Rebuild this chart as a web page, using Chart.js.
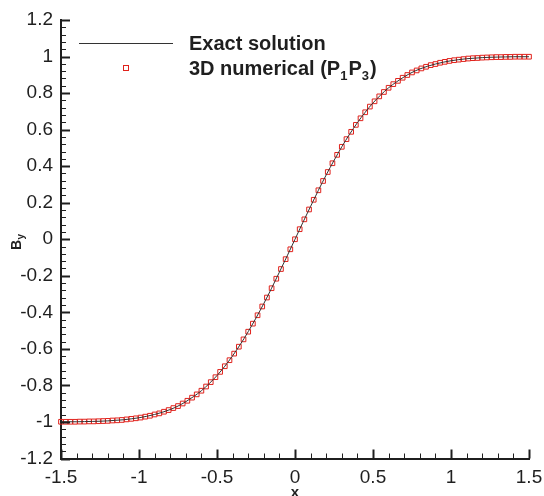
<!DOCTYPE html>
<html>
<head>
<meta charset="utf-8">
<script src="https://cdn.jsdelivr.net/npm/chart.js@4/dist/chart.umd.min.js"></script>
<style>
  html, body { margin: 0; padding: 0; background: #fff; }
  canvas { display: block; }
</style>
</head>
<body>
<canvas id="chart" width="544" height="496"></canvas>
<script>
// ---------- Data ----------
const exactX = [
  -1.50, -1.45, -1.40, -1.35, -1.30, -1.25, -1.20, -1.15, -1.10, -1.05,
  -1.00, -0.95, -0.90, -0.85, -0.80, -0.75, -0.70, -0.65, -0.60, -0.55,
  -0.50, -0.45, -0.40, -0.35, -0.30, -0.25, -0.20, -0.15, -0.10, -0.05,
  0,
  0.05, 0.10, 0.15, 0.20, 0.25, 0.30, 0.35, 0.40, 0.45, 0.50,
  0.55, 0.60, 0.65, 0.70, 0.75, 0.80, 0.85, 0.90, 0.95, 1.00,
  1.05, 1.10, 1.15, 1.20, 1.25, 1.30, 1.35, 1.40, 1.45, 1.50,
];
const exactY = [
  -0.999, -0.999, -0.999, -0.998, -0.997, -0.996, -0.994, -0.991, -0.988, -0.983,
  -0.977, -0.969, -0.959, -0.947, -0.932, -0.913, -0.889, -0.861, -0.829, -0.790,
  -0.746, -0.695, -0.638, -0.575, -0.506, -0.431, -0.352, -0.268, -0.180, -0.091,
  0,
  0.091, 0.180, 0.268, 0.352, 0.431, 0.506, 0.575, 0.638, 0.695, 0.746,
  0.790, 0.829, 0.861, 0.889, 0.913, 0.932, 0.947, 0.959, 0.969, 0.977,
  0.983, 0.988, 0.991, 0.994, 0.996, 0.997, 0.998, 0.999, 0.999, 0.999,
];

const numX = [
  -1.50, -1.47, -1.44, -1.41, -1.38, -1.35, -1.32, -1.29, -1.26, -1.23,
  -1.20, -1.17, -1.14, -1.11, -1.08, -1.05, -1.02, -0.99, -0.96, -0.93,
  -0.90, -0.87, -0.84, -0.81, -0.78, -0.75, -0.72, -0.69, -0.66, -0.63,
  -0.60, -0.57, -0.54, -0.51, -0.48, -0.45, -0.42, -0.39, -0.36, -0.33,
  -0.30, -0.27, -0.24, -0.21, -0.18, -0.15, -0.12, -0.09, -0.06, -0.03,
  0,
  0.03, 0.06, 0.09, 0.12, 0.15, 0.18, 0.21, 0.24, 0.27, 0.30,
  0.33, 0.36, 0.39, 0.42, 0.45, 0.48, 0.51, 0.54, 0.57, 0.60,
  0.63, 0.66, 0.69, 0.72, 0.75, 0.78, 0.81, 0.84, 0.87, 0.90,
  0.93, 0.96, 0.99, 1.02, 1.05, 1.08, 1.11, 1.14, 1.17, 1.20,
  1.23, 1.26, 1.29, 1.32, 1.35, 1.38, 1.41, 1.44, 1.47, 1.50,
];
const numY = [
  -0.999, -0.999, -0.999, -0.999, -0.998, -0.998, -0.997, -0.997, -0.996, -0.995,
  -0.994, -0.992, -0.991, -0.989, -0.986, -0.983, -0.980, -0.976, -0.971, -0.966,
  -0.959, -0.953, -0.944, -0.935, -0.924, -0.913, -0.899, -0.884, -0.867, -0.849,
  -0.829, -0.806, -0.782, -0.755, -0.726, -0.695, -0.662, -0.626, -0.588, -0.548,
  -0.506, -0.462, -0.416, -0.368, -0.319, -0.268, -0.216, -0.163, -0.109, -0.055,
  0,
  0.055, 0.109, 0.163, 0.216, 0.268, 0.319, 0.368, 0.416, 0.462, 0.506,
  0.548, 0.588, 0.626, 0.662, 0.695, 0.726, 0.755, 0.782, 0.806, 0.829,
  0.849, 0.867, 0.884, 0.899, 0.913, 0.924, 0.935, 0.944, 0.953, 0.959,
  0.966, 0.971, 0.976, 0.980, 0.983, 0.986, 0.989, 0.991, 0.992, 0.994,
  0.995, 0.996, 0.997, 0.997, 0.998, 0.998, 0.999, 0.999, 0.999, 0.999,
];

const xTicks = [-1.5, -1, -0.5, 0, 0.5, 1, 1.5];
const xTickLabels = ['-1.5', '-1', '-0.5', '0', '0.5', '1', '1.5'];
const yTicks = [-1.2, -1, -0.8, -0.6, -0.4, -0.2, 0, 0.2, 0.4, 0.6, 0.8, 1, 1.2];
const yTickLabels = ['-1.2', '-1', '-0.8', '-0.6', '-0.4', '-0.2', '0', '0.2', '0.4', '0.6', '0.8', '1', '1.2'];

// ---------- Style ----------
const INK = '#1f1f1f';
const RED = '#e0221c';
const FONT = '"Liberation Sans", Arial, Helvetica, sans-serif';

// ticks drawn inside the frame (major + minor)
const inwardTicks = {
  id: 'inwardTicks',
  afterDraw(chart) {
    const { ctx, chartArea: a, scales: { x, y } } = chart;
    ctx.save();
    ctx.strokeStyle = INK;
    for (let i = 0; i <= 30; i++) {
      const px = Math.round(x.getPixelForValue(-1.5 + i * 0.1)) + 0.5;
      const major = i % 5 === 0;
      ctx.lineWidth = major ? 2 : 1;
      ctx.beginPath();
      ctx.moveTo(px, a.bottom);
      ctx.lineTo(px, a.bottom - (major ? 9 : 5));
      ctx.stroke();
    }
    for (let i = 0; i <= 60; i++) {
      const py = Math.round(y.getPixelForValue(-1.2 + i * 0.04)) + 0.5;
      const major = i % 5 === 0;
      ctx.lineWidth = major ? 2 : 1;
      ctx.beginPath();
      ctx.moveTo(a.left, py);
      ctx.lineTo(a.left + (major ? 9 : 5), py);
      ctx.stroke();
    }
    ctx.restore();
  },
};

// axis titles (B_y, x) and the legend with subscripts
const annotations = {
  id: 'annotations',
  afterDraw(chart) {
    const { ctx } = chart;
    ctx.save();
    ctx.fillStyle = INK;
    ctx.textBaseline = 'alphabetic';

    // y title: B with subscript y, rotated
    ctx.save();
    ctx.translate(20.5, 245);
    ctx.rotate(-Math.PI / 2);
    ctx.font = 'bold 14px ' + FONT;
    ctx.textAlign = 'left';
    ctx.fillText('B', -5, 0);
    const bw = ctx.measureText('B').width;
    ctx.font = 'bold 10px ' + FONT;
    ctx.fillText('y', -5 + bw + 0.5, 3);
    ctx.restore();

    // x title
    ctx.font = 'bold 15px ' + FONT;
    ctx.textAlign = 'center';
    ctx.fillText('x', 295, 497);

    // legend
    ctx.strokeStyle = '#333';
    ctx.lineWidth = 1;
    ctx.beginPath();
    ctx.moveTo(79, 43.5);
    ctx.lineTo(173, 43.5);
    ctx.stroke();

    ctx.strokeStyle = RED;
    ctx.strokeRect(123.5, 65.5, 5, 5);

    ctx.textAlign = 'left';
    ctx.font = 'bold 20px ' + FONT;
    ctx.fillText('Exact solution', 189, 50);

    const parts = [
      ['3D numerical (P', false], ['1', true], ['P', false], ['3', true], [')', false],
    ];
    let tx = 189;
    parts.forEach(([t, sub]) => {
      ctx.font = (sub ? 'bold 13px ' : 'bold 20px ') + FONT;
      ctx.fillText(t, tx, sub ? 80 : 75);
      tx += ctx.measureText(t).width + (sub ? 1 : 0);
    });
    ctx.restore();
  },
};

const toPoints = (xs, ys) => xs.map((v, i) => ({ x: v, y: ys[i] }));

new Chart(document.getElementById('chart'), {
  type: 'scatter',
  data: {
    datasets: [
      {
        label: 'Exact solution',
        data: toPoints(exactX, exactY),
        showLine: true,
        borderColor: '#333',
        borderWidth: 1,
        pointRadius: 0,
        cubicInterpolationMode: 'monotone',
        clip: false,
        order: 1,
      },
      {
        label: '3D numerical (P1P3)',
        data: toPoints(numX, numY),
        showLine: false,
        pointStyle: 'rect',
        pointRadius: 3.3,
        pointBorderWidth: 1,
        pointBorderColor: RED,
        pointBackgroundColor: 'rgba(0,0,0,0)',
        clip: false,
        order: 2,
      },
    ],
  },
  options: {
    responsive: false,
    animation: false,
    devicePixelRatio: 1,
    layout: { padding: { top: 20, right: 15, left: 0, bottom: 0 } },
    plugins: { legend: { display: false }, tooltip: { enabled: false } },
    scales: {
      x: {
        type: 'linear',
        min: -1.5,
        max: 1.5,
        afterBuildTicks: (s) => { s.ticks = xTicks.map((v) => ({ value: v })); },
        afterFit: (s) => { s.height = 37.5; s.paddingLeft = 0; s.paddingRight = 0; },
        grid: { display: false, drawTicks: false },
        border: { display: true, color: INK, width: 2 },
        ticks: {
          padding: 8,
          color: INK,
          font: { family: FONT, size: 19 },
          maxRotation: 0,
          callback: (v, i) => xTickLabels[i],
        },
      },
      y: {
        type: 'linear',
        min: -1.2,
        max: 1.2,
        afterBuildTicks: (s) => { s.ticks = yTicks.map((v) => ({ value: v })); },
        afterFit: (s) => { s.width = 61; s.paddingTop = 0; s.paddingBottom = 0; },
        grid: { display: false, drawTicks: false },
        border: { display: true, color: INK, width: 2 },
        ticks: {
          padding: 8,
          color: INK,
          font: { family: FONT, size: 19 },
          callback: (v, i) => yTickLabels[i],
        },
      },
    },
  },
  plugins: [inwardTicks, annotations],
});
</script>
</body>
</html>
